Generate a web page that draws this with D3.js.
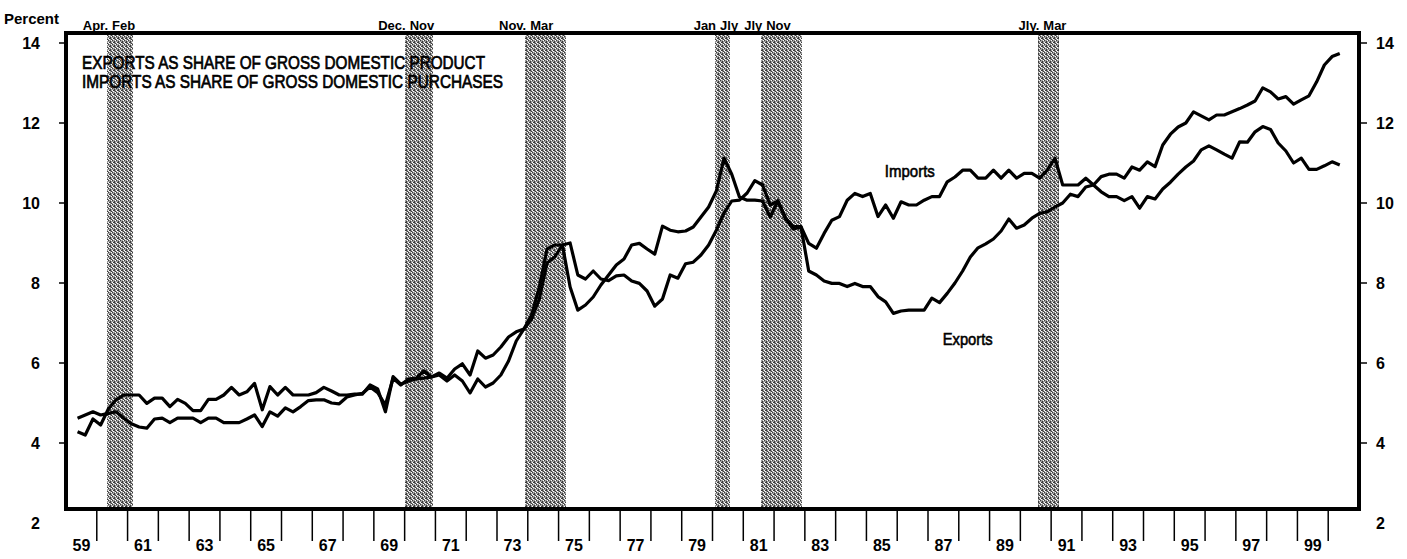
<!DOCTYPE html>
<html>
<head>
<meta charset="utf-8">
<script src="https://cdn.jsdelivr.net/npm/d3@7/dist/d3.min.js"></script>
<style>
  body { margin: 0; background: #fff; }
  text { font-family: "Liberation Sans", Arial, Helvetica, sans-serif; fill: #000; }
</style>
</head>
<body>
<script>
// quarterly data, first point is 1959 Q2, last point is 2000 Q2
var firstYear = 1959
var firstQuarter = 2

// exports as share of gross domestic product (percent)
var exportsShare = [
  4.28, 4.2, 4.6,                 // 1959
  4.45, 4.85, 5.08, 5.2,          // 1960
  5.2, 5.2, 4.99, 5.12,           // 1961
  5.12, 4.91, 5.09, 4.99,         // 1962
  4.81, 4.81, 5.09, 5.09,         // 1963
  5.2, 5.39, 5.2, 5.28,           // 1964
  5.49, 4.83, 5.41, 5.2,          // 1965
  5.39, 5.2, 5.2, 5.2,            // 1966
  5.26, 5.39, 5.3, 5.2,           // 1967
  5.2, 5.22, 5.22, 5.45,          // 1968
  5.35, 4.78, 5.66, 5.47,         // 1969
  5.55, 5.6, 5.62, 5.65,          // 1970
  5.7, 5.55, 5.7, 5.55,           // 1971
  5.25, 5.6, 5.4, 5.5,            // 1972
  5.7, 6.05, 6.55, 6.85,          // 1973
  7.1, 7.6, 8.5, 8.65,            // 1974
  8.95, 9.0, 8.2, 8.1,            // 1975
  8.3, 8.1, 8.06, 8.18,           // 1976
  8.2, 8.05, 7.99, 7.8,           // 1977
  7.42, 7.6, 8.2, 8.12,           // 1978
  8.48, 8.52, 8.7, 8.95,          // 1979
  9.32, 9.75, 10.05, 10.07,       // 1980
  10.25, 10.56, 10.45, 9.95,      // 1981
  10.05, 9.6, 9.35, 9.4,          // 1982
  8.3, 8.2, 8.05, 7.99,           // 1983
  7.99, 7.91, 7.99, 7.91,         // 1984
  7.91, 7.66, 7.53, 7.24,         // 1985
  7.3, 7.32, 7.32, 7.32,          // 1986
  7.62, 7.51, 7.74, 8.0,          // 1987
  8.3, 8.65, 8.88, 8.98,          // 1988
  9.1, 9.3, 9.6, 9.37,            // 1989
  9.45, 9.62, 9.74, 9.78,         // 1990
  9.9, 10.0, 10.22, 10.16,        // 1991
  10.4, 10.45, 10.28, 10.16,      // 1992
  10.16, 10.06, 10.16, 9.87,      // 1993
  10.16, 10.1, 10.35, 10.52,      // 1994
  10.72, 10.9, 11.05, 11.33,      // 1995
  11.43, 11.33, 11.22, 11.12,     // 1996
  11.53, 11.52, 11.78, 11.91,     // 1997
  11.84, 11.5, 11.3, 11.0,        // 1998
  11.12, 10.84, 10.84, 10.93,     // 1999
  11.03, 10.95                    // 2000
]

// imports as share of gross domestic purchases (percent)
var importsShare = [
  4.62, 4.7, 4.78,                // 1959
  4.7, 4.74, 4.78, 4.62,          // 1960
  4.48, 4.4, 4.37, 4.6,           // 1961
  4.62, 4.51, 4.62, 4.62,         // 1962
  4.62, 4.51, 4.62, 4.62,         // 1963
  4.51, 4.51, 4.51, 4.6,          // 1964
  4.7, 4.41, 4.78, 4.67,          // 1965
  4.88, 4.78, 4.91, 5.06,         // 1966
  5.08, 5.08, 5.0, 4.98,          // 1967
  5.15, 5.2, 5.24, 5.4,           // 1968
  5.26, 4.95, 5.62, 5.45,         // 1969
  5.6, 5.62, 5.8, 5.65,           // 1970
  5.75, 5.62, 5.85, 5.98,         // 1971
  5.7, 6.3, 6.12, 6.2,            // 1972
  6.4, 6.65, 6.78, 6.85,          // 1973
  7.2, 7.9, 8.85, 8.95,           // 1974
  8.95, 7.9, 7.32, 7.45,          // 1975
  7.65, 7.95, 8.2, 8.45,          // 1976
  8.6, 8.95, 8.99, 8.85,          // 1977
  8.72, 9.42, 9.32, 9.28,         // 1978
  9.3, 9.4, 9.65, 9.9,            // 1979
  10.3, 11.12, 10.72, 10.15,      // 1980
  10.07, 10.07, 10.05, 9.65,      // 1981
  10.05, 9.62, 9.41, 9.41,        // 1982
  8.99, 8.87, 9.24, 9.57,         // 1983
  9.66, 10.07, 10.24, 10.16,      // 1984
  10.24, 9.66, 9.95, 9.62,        // 1985
  10.03, 9.95, 9.95, 10.07,       // 1986
  10.16, 10.16, 10.53, 10.65,     // 1987
  10.82, 10.82, 10.62, 10.62,     // 1988
  10.82, 10.62, 10.82, 10.62,     // 1989
  10.74, 10.74, 10.62, 10.82,     // 1990
  11.12, 10.45, 10.45, 10.45,     // 1991
  10.62, 10.45, 10.66, 10.72,     // 1992
  10.72, 10.62, 10.9, 10.82,      // 1993
  11.03, 10.91, 11.45, 11.72,     // 1994
  11.9, 12.0, 12.28, 12.18,       // 1995
  12.08, 12.2, 12.2, 12.28,       // 1996
  12.36, 12.45, 12.55, 12.88,     // 1997
  12.78, 12.6, 12.66, 12.47,      // 1998
  12.58, 12.68, 13.03, 13.45,     // 1999
  13.66, 13.74                    // 2000
]

// recessions: peak and trough (year, month) with the labels printed above the frame
var recessionStart = [[1960, 4], [1969, 12], [1973, 11], [1980, 1], [1981, 7], [1990, 7]]
var recessionEnd   = [[1961, 2], [1970, 11], [1975, 3], [1980, 7], [1982, 11], [1991, 3]]
var recessionStartLabels = ["Apr.", "Dec.", "Nov.", "Jan", "Jly", "Jly."]
var recessionEndLabels   = ["Feb", "Nov", "Mar", "Jly", "Nov", "Mar"]

var yearLabels = ["59", "61", "63", "65", "67", "69", "71", "73", "75", "77", "79",
                  "81", "83", "85", "87", "89", "91", "93", "95", "97", "99"]
var valueTicks = [2, 4, 6, 8, 10, 12, 14]

var legendLines = ["EXPORTS AS SHARE OF GROSS DOMESTIC PRODUCT",
                   "IMPORTS AS SHARE OF GROSS DOMESTIC PURCHASES"]

var width = 1407
var height = 559

var x = d3.scaleLinear().domain([1959, 2001]).range([66, 1359])
var y = d3.scaleLinear().domain([2, 14]).range([523, 43])

// the frame does not sit on the 2 and 14 ticks
var frameLeft = x(1959)
var frameRight = x(2001)
var frameTop = y(14.25)
var frameBottom = y(2.35)

var svg = d3.select("body").append("svg")
    .attr("width", width)
    .attr("height", height)

// halftone-like texture for the recession bands
var defs = svg.append("defs")
var pat = defs.append("pattern")
    .attr("id", "shade")
    .attr("width", 4)
    .attr("height", 4)
    .attr("patternUnits", "userSpaceOnUse")
pat.append("rect").attr("width", 4).attr("height", 4).attr("fill", "#9a9a9a")
var dots = [[0, 0, "#3a3a3a"], [2, 1, "#3a3a3a"], [1, 2, "#3a3a3a"], [3, 3, "#3a3a3a"], [2, 2, "#3a3a3a"],
            [3, 0, "#ffffff"], [1, 3, "#ffffff"], [0, 2, "#ffffff"]]
dots.forEach(function(d) {
    pat.append("rect").attr("x", d[0]).attr("y", d[1])
        .attr("width", 1).attr("height", 1).attr("fill", d[2])
})

function monthToYear(ym) {
    // end of the given month
    return ym[0] + ym[1] / 12
}

// turn the series into {t, v} points at the middle of each quarter
function toPoints(values) {
    return values.map(function(v, i) {
        var t = firstYear + (firstQuarter - 1) * 0.25 + 0.125 + i * 0.25
        return {t: t, v: v}
    })
}

// white plot area
svg.append("rect")
    .attr("x", frameLeft)
    .attr("y", frameTop)
    .attr("width", frameRight - frameLeft)
    .attr("height", frameBottom - frameTop)
    .attr("fill", "#fff")

// recession bands
recessionStart.forEach(function(s, i) {
    var x0 = x(monthToYear(s))
    var x1 = x(monthToYear(recessionEnd[i]))
    svg.append("rect")
        .attr("x", x0)
        .attr("y", frameTop)
        .attr("width", x1 - x0)
        .attr("height", frameBottom - frameTop)
        .attr("fill", "url(#shade)")
        .attr("shape-rendering", "crispEdges")

    svg.append("text")
        .attr("x", x0 + 1)
        .attr("y", 30)
        .attr("text-anchor", "end")
        .style("font-size", "13px")
        .style("font-weight", "bold")
        .text(recessionStartLabels[i])

    svg.append("text")
        .attr("x", x0 + 5)
        .attr("y", 30)
        .style("font-size", "13px")
        .style("font-weight", "bold")
        .text(recessionEndLabels[i])
})

// the two series
var line = d3.line()
    .x(function(d) { return x(d.t) })
    .y(function(d) { return y(d.v) })

;[importsShare, exportsShare].forEach(function(series) {
    svg.append("path")
        .datum(toPoints(series))
        .attr("d", line)
        .attr("fill", "none")
        .attr("stroke", "#000")
        .attr("stroke-width", 3.2)
        .attr("stroke-linejoin", "round")
})

// frame
svg.append("rect")
    .attr("x", frameLeft)
    .attr("y", frameTop)
    .attr("width", frameRight - frameLeft)
    .attr("height", frameBottom - frameTop)
    .attr("fill", "none")
    .attr("stroke", "#000")
    .attr("stroke-width", 4)

// left and right value axes: ticks inside the frame range, labels for all
valueTicks.forEach(function(v) {
    if (v > 2.35 && v < 14.25) {
        svg.append("line")
            .attr("x1", frameLeft - 7).attr("x2", frameLeft)
            .attr("y1", y(v)).attr("y2", y(v))
            .attr("stroke", "#000").attr("stroke-width", 1.5)
        svg.append("line")
            .attr("x1", frameRight).attr("x2", frameRight + 8)
            .attr("y1", y(v)).attr("y2", y(v))
            .attr("stroke", "#000").attr("stroke-width", 1.5)
    }
    svg.append("text")
        .attr("x", 40)
        .attr("y", y(v) + 6)
        .attr("text-anchor", "end")
        .style("font-size", "16px")
        .style("font-weight", "bold")
        .text(v)
    svg.append("text")
        .attr("x", 1376)
        .attr("y", y(v) + 6)
        .style("font-size", "16px")
        .style("font-weight", "bold")
        .text(v)
})

svg.append("text")
    .attr("x", 4)
    .attr("y", 24)
    .style("font-size", "15px")
    .style("font-weight", "bold")
    .text("Percent")

// year ticks below the frame, one per year boundary
d3.range(1960, 2001).forEach(function(yr) {
    svg.append("line")
        .attr("x1", x(yr)).attr("x2", x(yr))
        .attr("y1", frameBottom).attr("y2", frameBottom + 32)
        .attr("stroke", "#000").attr("stroke-width", 1.5)
})

yearLabels.forEach(function(lbl) {
    var yr = 1900 + (+lbl)
    svg.append("text")
        .attr("x", x(yr + 0.5))
        .attr("y", 551)
        .attr("text-anchor", "middle")
        .style("font-size", "16px")
        .style("font-weight", "bold")
        .text(lbl)
})

// title lines inside the plot
var legendWidths = [403, 421]
legendLines.forEach(function(txt, i) {
    svg.append("text")
        .attr("x", frameLeft + 16)
        .attr("y", 69 + i * 19)
        .attr("textLength", legendWidths[i])
        .attr("lengthAdjust", "spacingAndGlyphs")
        .style("font-size", "18px")
        .style("stroke", "#000")
        .style("stroke-width", 0.7)
        .text(txt)
})

// series labels
svg.append("text")
    .attr("x", x(1986.41))
    .attr("y", y(10.65))
    .attr("text-anchor", "middle")
    .attr("textLength", 50)
    .attr("lengthAdjust", "spacingAndGlyphs")
    .style("font-size", "17px")
    .style("stroke", "#000")
    .style("stroke-width", 0.6)
    .text("Imports")

svg.append("text")
    .attr("x", x(1988.29))
    .attr("y", y(6.45))
    .attr("text-anchor", "middle")
    .attr("textLength", 50)
    .attr("lengthAdjust", "spacingAndGlyphs")
    .style("font-size", "17px")
    .style("stroke", "#000")
    .style("stroke-width", 0.6)
    .text("Exports")
</script>
</body>
</html>
